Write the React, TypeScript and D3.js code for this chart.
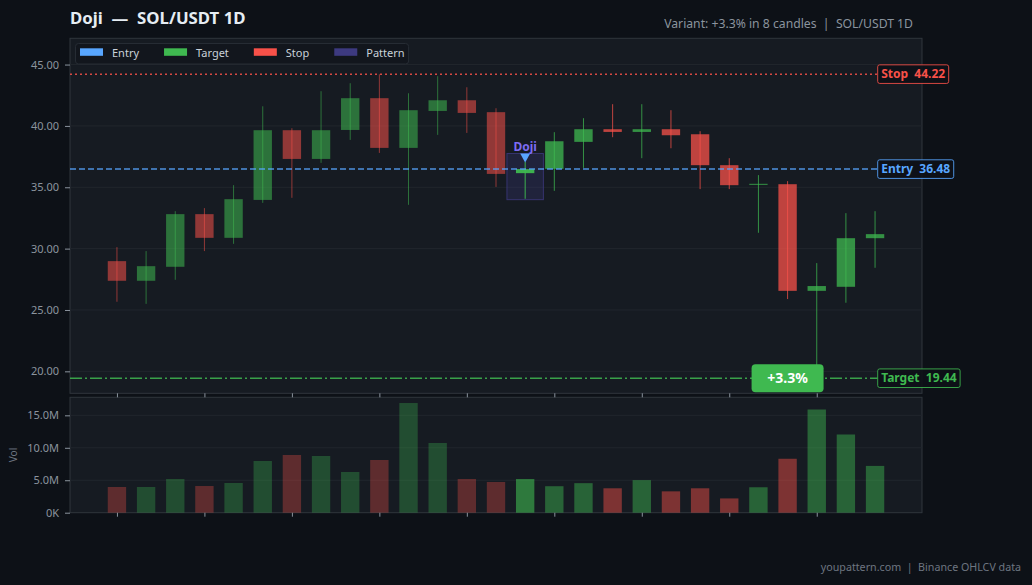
import { useEffect, useRef } from "react";
import * as d3 from "d3";

// OHLCV, one entry per daily candle (price in USDT, volume in millions)
const opens = [28.98, 27.38, 28.52, 32.81, 30.88, 33.97, 39.65, 37.31, 39.67, 42.26, 38.21, 41.22, 42.09, 41.12, 36.15, 36.5, 38.7, 39.73, 39.51, 39.73, 39.32, 36.8, 35.22, 35.25, 26.56, 26.89, 30.85];
const highs = [30.12, 29.8, 33.05, 33.3, 35.17, 41.6, 39.81, 42.83, 43.48, 44.21, 42.66, 44.05, 43.15, 41.44, 37.07, 39.49, 40.63, 41.77, 41.77, 41.28, 39.57, 37.37, 35.99, 35.5, 28.82, 32.89, 33.05];
const lows = [25.67, 25.5, 27.46, 29.8, 30.39, 33.73, 34.14, 36.99, 38.86, 37.8, 33.57, 39.27, 39.43, 35.03, 34.06, 34.71, 36.58, 39.08, 37.37, 38.18, 34.85, 34.85, 31.29, 25.89, 19.9, 25.59, 28.44];
const closes = [27.38, 28.57, 32.81, 30.88, 34.03, 39.65, 37.31, 39.65, 42.26, 38.21, 41.28, 42.09, 41.06, 36.09, 36.48, 38.75, 39.73, 39.51, 39.73, 39.24, 36.8, 35.17, 35.26, 26.56, 26.95, 30.85, 31.18];
const volumes = [3.96, 3.96, 5.19, 4.11, 4.58, 7.97, 8.89, 8.74, 6.27, 8.12, 16.9, 10.74, 5.19, 4.73, 5.18, 4.08, 4.55, 3.76, 5.02, 3.29, 3.76, 2.2, 3.92, 8.31, 15.9, 12.05, 7.21];

const patternIndex = 14;
const patternName = "Doji";
const entryPrice = 36.48;
const stopPrice = 44.22;
const targetPrice = 19.44;
const resultLabel = "+3.3%";
const resultIndex = 23;

const priceTicks = [20, 25, 30, 35, 40, 45];
const volumeTicks = [0, 5, 10, 15];
const legendItems = ["Entry", "Target", "Stop", "Pattern"];

const C = {
  page: "#0d1117",
  panel: "#161b22",
  grid: "#21262d",
  border: "#30363d",
  text: "#e6edf3",
  muted: "#8b949e",
  faint: "#6e7681",
  green: "#3fb950",
  red: "#f85149",
  blue: "#58a6ff",
  pattern: "#3d3a80",
  dojiText: "#7d6cf2",
};

export default function App() {
  const svgRef = useRef<SVGSVGElement>(null);

  useEffect(() => {
    if (!svgRef.current) return;
    const W = 1032;
    const H = 585;
    const font = "'Noto Sans', 'DejaVu Sans', sans-serif";

    const svg = d3.select(svgRef.current);
    svg.selectAll("*").remove();
    svg.attr("width", W).attr("height", H).attr("viewBox", `0 0 ${W} ${H}`);

    svg.append("rect").attr("width", W).attr("height", H).attr("fill", C.page);

    const left = 70;
    const right = 922;
    const pTop = 38.3;
    const pBot = 393.3;
    const vTop = 397.3;
    const vBot = 512.7;

    const n = opens.length;
    const idx = d3.range(n);
    const x = d3.scaleLinear().domain([-1.61, n - 1 + 1.61]).range([left, right]);
    const step = x(1) - x(0);
    const y = d3.scaleLinear().domain([18.21, 47.14]).range([pBot, pTop]);
    const yv = d3.scaleLinear().domain([0, 17.78]).range([vBot, vTop]);

    // Panels
    [[pTop, pBot], [vTop, vBot]].forEach(([t, b]) => {
      svg
        .append("rect")
        .attr("x", left)
        .attr("y", t)
        .attr("width", right - left)
        .attr("height", b - t)
        .attr("fill", C.panel)
        .attr("stroke", C.border)
        .attr("stroke-width", 1);
    });

    // Gridlines
    svg
      .append("g")
      .selectAll("line")
      .data(priceTicks)
      .join("line")
      .attr("x1", left)
      .attr("x2", right)
      .attr("y1", (d) => y(d))
      .attr("y2", (d) => y(d))
      .attr("stroke", C.grid);
    svg
      .append("g")
      .selectAll("line")
      .data(volumeTicks.slice(1))
      .join("line")
      .attr("x1", left)
      .attr("x2", right)
      .attr("y1", (d) => yv(d))
      .attr("y2", (d) => yv(d))
      .attr("stroke", C.grid);

    // Price axis
    svg
      .append("g")
      .attr("transform", `translate(${left},0)`)
      .call(d3.axisLeft(y).tickValues(priceTicks).tickSize(5).tickPadding(6).tickFormat((d) => d3.format(".2f")(d as number)))
      .call((a) => {
        a.select(".domain").remove();
        a.selectAll(".tick line").attr("stroke", C.muted);
        a.selectAll(".tick text").attr("fill", C.muted).attr("font-family", font).attr("font-size", 11);
      });

    // Volume axis
    svg
      .append("g")
      .attr("transform", `translate(${left},0)`)
      .call(
        d3
          .axisLeft(yv)
          .tickValues(volumeTicks)
          .tickSize(5)
          .tickPadding(6)
          .tickFormat((d) => ((d as number) === 0 ? "0K" : `${d3.format(".1f")(d as number)}M`))
      )
      .call((a) => {
        a.select(".domain").remove();
        a.selectAll(".tick line").attr("stroke", C.muted);
        a.selectAll(".tick text").attr("fill", C.muted).attr("font-family", font).attr("font-size", 11);
      });

    svg
      .append("text")
      .attr("transform", `translate(17,${(vTop + vBot) / 2}) rotate(-90)`)
      .attr("text-anchor", "middle")
      .attr("fill", C.faint)
      .attr("font-family", font)
      .attr("font-size", 10)
      .text("Vol");

    // X ticks (no labels)
    const xTicks = idx.filter((i) => i % 3 === 0);
    [pBot, vBot].forEach((yy) => {
      svg
        .append("g")
        .attr("transform", `translate(0,${yy})`)
        .call(d3.axisBottom(x).tickValues(xTicks).tickSize(4).tickFormat(() => ""))
        .call((a) => {
          a.select(".domain").remove();
          a.selectAll(".tick line").attr("stroke", C.muted);
        });
    });

    const phase = (i: number) => (i < patternIndex ? 0 : i === patternIndex ? 1 : 2);
    const candleOpacity = [0.55, 0.95, 0.75];
    const volOpacity = [0.32, 0.6, 0.46];
    const bw = step * 0.63;

    // Volume bars
    svg
      .append("g")
      .selectAll("rect")
      .data(idx)
      .join("rect")
      .attr("x", (i) => x(i) - bw / 2)
      .attr("width", bw)
      .attr("y", (i) => yv(volumes[i]))
      .attr("height", (i) => yv(0) - yv(volumes[i]))
      .attr("fill", (i) => (closes[i] >= opens[i] ? C.green : C.red))
      .attr("fill-opacity", (i) => volOpacity[phase(i)]);

    // Pattern highlight box
    const pPad = 0.625;
    const boxTop = y(highs[patternIndex] + 0.68);
    const boxBot = y(lows[patternIndex] - 0.07);
    svg
      .append("rect")
      .attr("x", x(patternIndex - pPad))
      .attr("width", x(patternIndex + pPad) - x(patternIndex - pPad))
      .attr("y", boxTop)
      .attr("height", boxBot - boxTop)
      .attr("fill", C.pattern)
      .attr("fill-opacity", 0.28)
      .attr("stroke", C.pattern)
      .attr("stroke-opacity", 0.8)
      .attr("stroke-width", 1);

    // Candles
    const cg = svg.append("g");
    idx.forEach((i) => {
      const up = closes[i] >= opens[i];
      const col = up ? C.green : C.red;
      const op = candleOpacity[phase(i)];
      cg.append("line")
        .attr("x1", x(i))
        .attr("x2", x(i))
        .attr("y1", y(highs[i]))
        .attr("y2", y(lows[i]))
        .attr("stroke", col)
        .attr("stroke-opacity", op)
        .attr("stroke-width", 1);
      const top = y(Math.max(opens[i], closes[i]));
      const bot = y(Math.min(opens[i], closes[i]));
      const h = Math.max(1, bot - top);
      cg.append("rect")
        .attr("x", x(i) - bw / 2)
        .attr("width", bw)
        .attr("y", h === 1 ? (top + bot) / 2 - 0.5 : top)
        .attr("height", h)
        .attr("fill", col)
        .attr("fill-opacity", op);
    });

    // Pattern marker
    const mx = x(patternIndex);
    svg
      .append("path")
      .attr("d", `M${mx - 5},${boxTop} L${mx + 5},${boxTop} L${mx},${boxTop + 9} Z`)
      .attr("fill", C.blue);
    svg
      .append("text")
      .attr("x", mx)
      .attr("y", boxTop - 2.5)
      .attr("text-anchor", "middle")
      .attr("fill", C.dojiText)
      .attr("font-family", font)
      .attr("font-weight", "bold")
      .attr("font-size", 12)
      .text(patternName);

    // Levels
    const levels = [
      { name: "Stop", value: stopPrice, color: C.red, dash: "2,3" },
      { name: "Entry", value: entryPrice, color: C.blue, dash: "6,3" },
      { name: "Target", value: targetPrice, color: C.green, dash: "12,3,2,3" },
    ];
    const labelX = 877.7;
    levels.forEach((lv) => {
      const yy = y(lv.value);
      svg
        .append("line")
        .attr("x1", left)
        .attr("x2", labelX)
        .attr("y1", yy)
        .attr("y2", yy)
        .attr("stroke", lv.color)
        .attr("stroke-opacity", 0.85)
        .attr("stroke-width", 1.5)
        .attr("stroke-dasharray", lv.dash);
      const g = svg.append("g");
      const rect = g.append("rect");
      const t = g
        .append("text")
        .attr("x", labelX + 3.5)
        .attr("y", yy + 4.2)
        .attr("fill", lv.color)
        .attr("font-family", font)
        .attr("font-weight", "bold")
        .attr("font-size", 12)
        .style("white-space", "pre")
        .text(`${lv.name}  ${lv.value.toFixed(2)}`);
      const tw = (t.node() as SVGTextElement).getComputedTextLength();
      rect
        .attr("x", labelX)
        .attr("y", yy - 9.3)
        .attr("width", tw + 7)
        .attr("height", 18.6)
        .attr("rx", 2)
        .attr("fill", C.page)
        .attr("fill-opacity", 0.9)
        .attr("stroke", lv.color)
        .attr("stroke-opacity", 0.85)
        .attr("stroke-width", 1);
    });

    // Result badge on the target line
    const bx = x(resultIndex);
    const by = y(targetPrice);
    svg
      .append("rect")
      .attr("x", bx - 36)
      .attr("y", by - 14)
      .attr("width", 72)
      .attr("height", 28)
      .attr("rx", 4)
      .attr("fill", C.green);
    svg
      .append("text")
      .attr("x", bx)
      .attr("y", by + 5)
      .attr("text-anchor", "middle")
      .attr("fill", "#ffffff")
      .attr("font-family", font)
      .attr("font-weight", "bold")
      .attr("font-size", 14)
      .text(resultLabel);

    // Legend
    const lg = svg.append("g");
    const lgBox = lg.append("rect");
    let cx = 80;
    legendItems.forEach((name, k) => {
      const col = [C.blue, C.green, C.red, C.pattern][k];
      lg.append("rect").attr("x", cx).attr("y", 48.3).attr("width", 23).attr("height", 7.5).attr("fill", col);
      const t = lg
        .append("text")
        .attr("x", cx + 32)
        .attr("y", 56.8)
        .attr("fill", "#c9d1d9")
        .attr("font-family", font)
        .attr("font-size", 11)
        .text(name);
      const tw = (t.node() as SVGTextElement).getComputedTextLength();
      cx = cx + 32 + tw + (k < legendItems.length - 1 ? 25 : 4);
    });
    lgBox
      .attr("x", 75.5)
      .attr("y", 43.5)
      .attr("width", cx - 75.5)
      .attr("height", 20.5)
      .attr("rx", 3)
      .attr("fill", "#12161d")
      .attr("stroke", "#262c34");

    // Titles
    svg
      .append("text")
      .attr("x", left)
      .attr("y", 23.5)
      .attr("fill", C.text)
      .attr("font-family", font)
      .attr("font-weight", "bold")
      .attr("font-size", 16.8)
      .style("white-space", "pre")
      .text("Doji  \u2014  SOL/USDT 1D");
    svg
      .append("text")
      .attr("x", 913)
      .attr("y", 27.5)
      .attr("text-anchor", "end")
      .attr("fill", C.muted)
      .attr("font-family", font)
      .attr("font-size", 12.2)
      .style("white-space", "pre")
      .text("Variant: +3.3% in 8 candles  |  SOL/USDT 1D");
    svg
      .append("text")
      .attr("x", 1021)
      .attr("y", 571)
      .attr("text-anchor", "end")
      .attr("fill", C.faint)
      .attr("font-family", font)
      .attr("font-size", 10.7)
      .style("white-space", "pre")
      .text("youpattern.com  |  Binance OHLCV data");
  }, []);

  return (
    <div style={{ position: "absolute", left: 0, top: 0, width: 1032, height: 585, background: C.page }}>
      <svg ref={svgRef} style={{ display: "block" }} />
    </div>
  );
}
